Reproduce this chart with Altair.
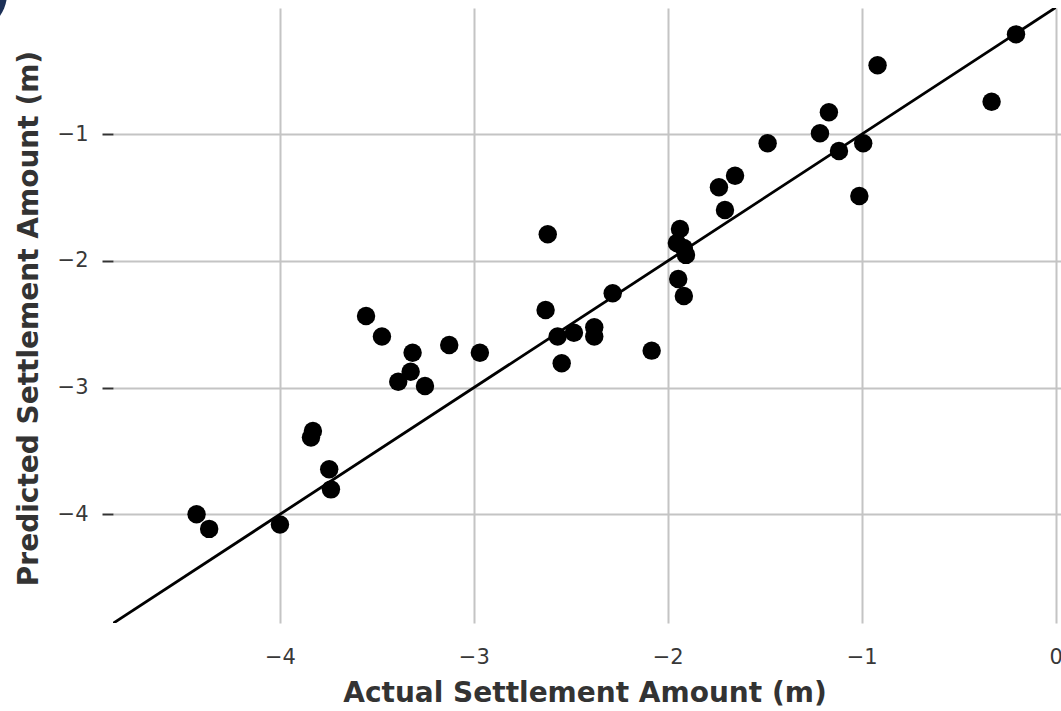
import altair as alt
import pandas as pd

# Actual vs. predicted settlement (m)
actual = [
    -4.43, -4.365, -4.00, -3.746, -3.737, -3.830, -3.840,
    -3.556, -3.474, -3.316, -3.127, -2.969, -3.326, -3.390, -3.252,
    -2.619, -2.630, -2.568, -2.484, -2.547, -2.379, -2.379, -2.284, -2.083,
    -1.937, -1.953, -1.917, -1.906, -1.946, -1.917,
    -1.705, -1.736, -1.653, -1.485, -1.215, -1.169, -1.117, -0.992, -1.012,
    -0.918, -0.204, -0.330,
]
predicted = [
    -4.00, -4.115, -4.080, -3.644, -3.803, -3.342, -3.393,
    -2.434, -2.597, -2.724, -2.663, -2.724, -2.874, -2.953, -2.987,
    -1.789, -2.387, -2.597, -2.566, -2.807, -2.523, -2.597, -2.255, -2.708,
    -1.747, -1.858, -1.897, -1.952, -2.142, -2.276,
    -1.597, -1.418, -1.327, -1.071, -0.992, -0.826, -1.132, -1.071, -1.487,
    -0.455, -0.211, -0.743,
]

# Identity reference line end points
ref_line = [-4.86, 0.0]

x_domain = [-4.861, 0.028]
y_domain = [-4.858, -0.003]
x_ticks = [-4, -3, -2, -1, 0]
y_ticks = [-4, -3, -2, -1]

FONT = "DejaVu Sans"
W, H = 948, 615

pts = pd.DataFrame({"actual": actual, "predicted": predicted})
line_df = pd.DataFrame({"actual": ref_line, "predicted": ref_line})

x_enc = alt.X(
    "actual:Q",
    scale=alt.Scale(domain=x_domain, nice=False, zero=False),
    axis=alt.Axis(
        values=x_ticks, format="d", title="Actual Settlement Amount (m)",
        grid=True, gridColor="#c4c4c4", gridWidth=2, domain=False, ticks=False,
        labelFont=FONT, labelFontSize=21, labelColor="#383838", labelPadding=23,
        labelFlush=False, labelOverlap=False,
        titleFont=FONT, titleFontSize=28, titleFontWeight="bold", titleColor="#333333",
        titleBaseline="alphabetic", titleY=78, titleX=471.5,
    ),
)
y_enc = alt.Y(
    "predicted:Q",
    scale=alt.Scale(domain=y_domain, nice=False, zero=False),
    axis=alt.Axis(
        values=y_ticks, format="d", title="Predicted Settlement Amount (m)",
        grid=True, gridColor="#c4c4c4", gridWidth=2, domain=False,
        ticks=True, tickSize=11, tickWidth=2, tickColor="#333333",
        labelFont=FONT, labelFontSize=21, labelColor="#383838", labelPadding=14,
        labelFlush=False, labelOverlap=False,
        titleFont=FONT, titleFontSize=28, titleFontWeight="bold", titleColor="#333333",
        titleBaseline="alphabetic", titleAngle=270, titleX=-76, titleY=310,
        titleAlign="center",
    ),
)

# Vega circle size is the square of the diameter
points = alt.Chart(pts).mark_circle(size=340, color="black", opacity=1).encode(
    x=x_enc, y=y_enc
)

identity = alt.Chart(line_df).mark_line(color="black", strokeWidth=2.8, clip=True).encode(
    x="actual:Q", y="predicted:Q"
)

# Corner emblem partly outside the canvas
emblem = alt.Chart(pd.DataFrame({"k": [0]})).mark_circle(
    color="#1c3057", opacity=1, size=5476
).encode(x=alt.value(-143), y=alt.value(-14))

chart = (
    alt.layer(identity, points, emblem)
    .properties(
        width=W, height=H,
        autosize=alt.AutoSizeParams(type="none"),
        padding={"left": 113, "top": 8, "right": 0, "bottom": 88},
        background="white",
    )
    .configure_view(stroke=None)
)

chart.save("out.html", embed_options={"renderer": "svg", "actions": False})
